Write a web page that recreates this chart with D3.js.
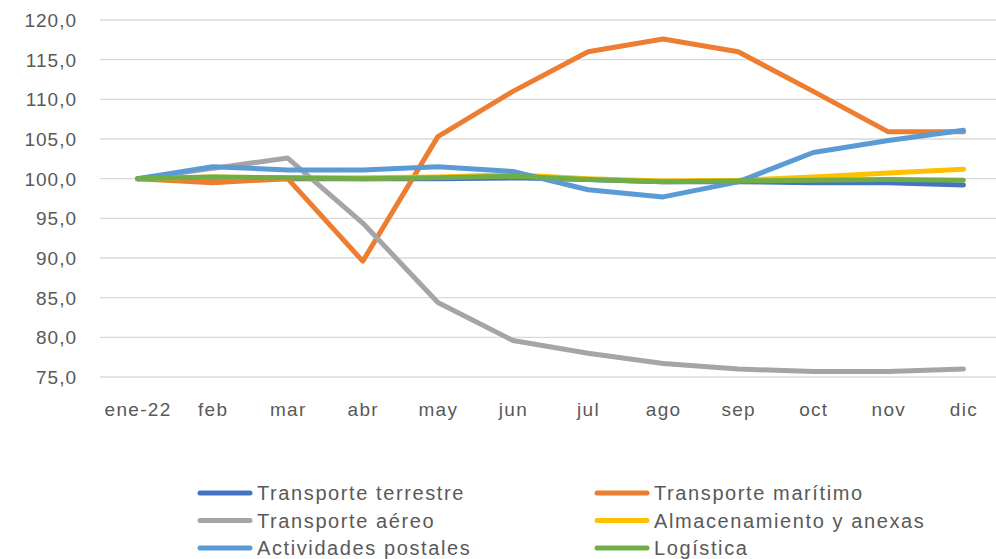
<!DOCTYPE html>
<html>
<head>
<meta charset="utf-8">
<script src="https://cdn.jsdelivr.net/npm/d3@7"></script>
<style>
    body { margin: 0; background: #fff; }
    text { font-family: "Liberation Sans", Arial, sans-serif; fill: #595959; }
</style>
</head>
<body>
<div id="chart"></div>
<script>

// data
let months = ["ene-22", "feb", "mar", "abr", "may", "jun", "jul", "ago", "sep", "oct", "nov", "dic"];
let yTicks = [75, 80, 85, 90, 95, 100, 105, 110, 115, 120];

let seriesNames = ["Transporte terrestre", "Transporte marítimo", "Transporte aéreo",
    "Almacenamiento y anexas", "Actividades postales", "Logística"];
let seriesColors = ["#4472C4", "#ED7D31", "#A5A5A5", "#FFC000", "#5B9BD5", "#70AD47"];

let terrestre = [100, 100.0, 100.0, 100.0, 100.0, 100.1, 99.9, 99.6, 99.6, 99.5, 99.5, 99.2];
let maritimo = [100, 99.5, 100.0, 89.6, 105.3, 111.0, 116.0, 117.6, 116.0, 111.0, 105.9, 105.9];
let aereo = [100, 101.3, 102.6, 94.4, 84.4, 79.6, 78.0, 76.7, 76.0, 75.7, 75.7, 76.0];
let almacenamiento = [100, 100.2, 100.1, 100.1, 100.2, 100.5, 100.0, 99.7, 99.8, 100.2, 100.7, 101.2];
let postales = [100, 101.5, 101.1, 101.1, 101.5, 100.9, 98.6, 97.7, 99.6, 103.3, 104.8, 106.1];
let logistica = [100, 100.2, 100.1, 100.0, 100.1, 100.3, 99.9, 99.6, 99.7, 99.8, 99.9, 99.8];

let seriesValues = [terrestre, maritimo, aereo, almacenamiento, postales, logistica];

let width = 996, height = 559;
let margin = {top: 20, left: 100, right: -5, bottom: 182};

let svg = d3.select("#chart").append("svg")
    .attr("width", width)
    .attr("height", height);

let xScale = d3.scalePoint()
    .domain(months)
    .range([margin.left, width - margin.right])
    .padding(0.5);

let yScale = d3.scaleLinear()
    .domain([75, 120])
    .range([height - margin.bottom, margin.top]);

// gridlines
svg.append("g")
    .selectAll("line")
    .data(yTicks)
    .enter()
    .append("line")
    .attr("x1", margin.left)
    .attr("x2", width)
    .attr("y1", d => yScale(d))
    .attr("y2", d => yScale(d))
    .attr("stroke", "#d9d9d9")
    .attr("stroke-width", 1.3);

// y axis
let yAxis = svg.append("g")
    .attr("transform", `translate(${margin.left - 23}, 0)`)
    .call(d3.axisLeft(yScale).tickValues(yTicks).tickSize(0).tickFormat(d => d3.format(".1f")(d).replace(".", ",")));
yAxis.select(".domain").remove();
yAxis.selectAll("text")
    .attr("x", 0)
    .attr("dy", "0.35em")
    .style("font-size", "19px")
    .style("letter-spacing", "1px");

// x axis
let xAxis = svg.append("g")
    .attr("transform", `translate(0, ${yScale(75)})`)
    .call(d3.axisBottom(xScale).tickSize(0));
xAxis.select(".domain").remove();
xAxis.selectAll("text")
    .attr("y", 32)
    .attr("dy", "0.35em")
    .style("font-size", "19px")
    .style("letter-spacing", "1.3px");

// lines
let line = d3.line()
    .x((d, i) => xScale(months[i]))
    .y(d => yScale(d));

svg.append("g")
    .selectAll("path")
    .data(seriesValues)
    .enter()
    .append("path")
    .attr("d", d => line(d))
    .attr("fill", "none")
    .attr("stroke", (d, i) => seriesColors[i])
    .attr("stroke-width", 5)
    .attr("stroke-linejoin", "round")
    .attr("stroke-linecap", "round");

// legend
let legend = svg.append("g")
    .selectAll("g")
    .data(seriesNames)
    .enter()
    .append("g")
    .attr("transform", (d, i) => `translate(${i % 2 === 0 ? 200 : 597}, ${493 + Math.floor(i / 2) * 27.5})`);

legend.append("line")
    .attr("x1", 0)
    .attr("x2", 50)
    .attr("stroke", (d, i) => seriesColors[i])
    .attr("stroke-width", 5)
    .attr("stroke-linecap", "round");

legend.append("text")
    .attr("x", 57)
    .attr("dy", "0.35em")
    .style("font-size", "20px")
    .style("letter-spacing", "1.6px")
    .text(d => d);

</script>
</body>
</html>
